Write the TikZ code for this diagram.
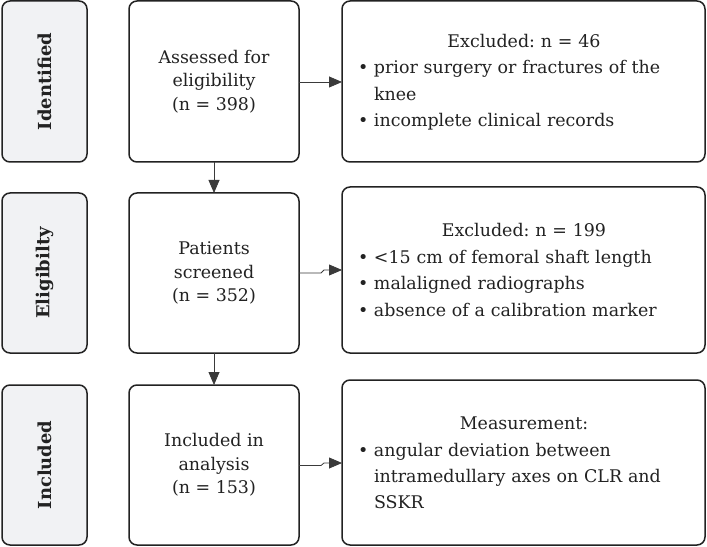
\documentclass[tikz,border=0pt]{standalone}
\usepackage{fontspec}
\setmainfont{DejaVu Serif}
\usetikzlibrary{arrows.meta}
\definecolor{lineC}{HTML}{222222}
\definecolor{arrC}{HTML}{3A3A3A}
\definecolor{sideF}{HTML}{F1F2F4}
\frenchspacing
\hyphenpenalty=10000
\exhyphenpenalty=10000
\newcommand\bul[1]{\par{\leftskip=16bp\noindent\llap{\makebox[16bp][l]{•}}#1\par}}
\tikzset{
  box/.style={draw=lineC, line width=1.5bp, rounded corners=8bp, fill=white},
  side/.style={box, fill=sideF},
  sidetext/.style={rotate=90, font=\fontsize{18}{21}\selectfont\bfseries, text=lineC},
  midtext/.style={align=center, font=\fontsize{17.5}{23.5}\selectfont, text=lineC},
  exttext/.style={text width=332bp, font=\fontsize{17.5}{26.5}\selectfont, text=lineC, inner sep=0pt},
  arr/.style={draw=arrC, line width=0.8bp, -{Triangle[length=13bp,width=11bp]}},
}
\begin{document}
\begin{tikzpicture}[x=1bp,y=-1bp]
\useasboundingbox (0,0) rectangle (707,547);
% side boxes
\draw[side] (2,1) rectangle (87,162);
\node[sidetext] (l1) at (44.5,81.5) {Identified};
\draw[side] (2,193) rectangle (87,353);
\node[sidetext] (l2) at (44.5,273) {Eligibilty};
\draw[side] (2,385) rectangle (87,545);
\node[sidetext] (l3) at (44.5,465) {Included};
% middle boxes
\draw[box] (129,1) rectangle (299,162);
\node[midtext] (m1) at (214,81.5) {Assessed for\\eligibility\\(n = 398)};
\draw[box] (129,193) rectangle (299,353);
\node[midtext] (m2) at (214,273) {Patients\\screened\\(n = 352)};
\draw[box] (129,385) rectangle (299,545);
\node[midtext] (m3) at (214,465) {Included in\\analysis\\(n = 153)};
% right boxes
\draw[box] (342,1) rectangle (705,162);
\node[exttext] (e1) at (524,82) {\centering Excluded: n = 46\par\raggedright
\bul{prior surgery or fractures of the knee}
\bul{incomplete clinical records}};
\draw[box] (342,187) rectangle (705,353);
\node[exttext] (e2) at (524,270) {\centering Excluded: n = 199\par\raggedright
\bul{<15 cm of femoral shaft length}
\bul{malaligned radiographs}
\bul{absence of a calibration marker}};
\draw[box] (342,380) rectangle (705,545);
\node[exttext] (e3) at (524,463) {\centering Measurement:\par\raggedright
\bul{angular deviation between intramedullary axes on CLR and SSKR}};
% coordinates for connectors
\coordinate (m1b) at (214,162);
\coordinate (m2t) at (214,193);
\coordinate (m2b) at (214,353);
\coordinate (m3t) at (214,385);
\coordinate (h1a) at (299,82);
\coordinate (h1b) at (342,82);
\coordinate (h2a) at (299,273);
\coordinate (h2k) at (321,273);
\coordinate (h2b) at (342,270);
\coordinate (h3a) at (299,465.5);
\coordinate (h3k) at (321,465.5);
\coordinate (h3b) at (342,463);
\draw[arr] (m1b) -- (m2t);
\draw[arr] (m2b) -- (m3t);
\draw[arr] (h1a) -- (h1b);
\draw[arr] (h2a) -- (h2k) -- ++(3,-3) -- (h2b);
\draw[arr] (h3a) -- (h3k) -- ++(3,-2.5) -- (h3b);
\end{tikzpicture}
\end{document}
